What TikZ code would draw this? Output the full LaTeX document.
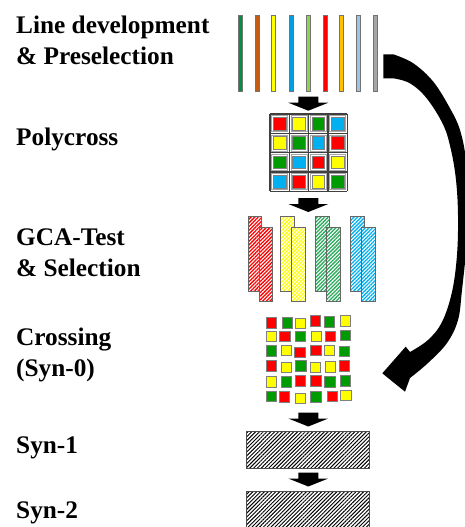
\documentclass[tikz,border=0pt]{standalone}
\usepackage{fontspec}
\setmainfont{Liberation Serif}
\usetikzlibrary{patterns.meta}
\definecolor{bGreen}{RGB}{0,145,65}
\definecolor{bBrown}{RGB}{197,90,17}
\definecolor{bYellow}{RGB}{255,255,0}
\definecolor{bBlue}{RGB}{0,160,224}
\definecolor{bLGreen}{RGB}{146,208,80}
\definecolor{bRed}{RGB}{255,0,0}
\definecolor{bOrange}{RGB}{255,192,0}
\definecolor{bLBlue}{RGB}{157,195,230}
\definecolor{bGray}{RGB}{166,166,166}
\definecolor{cR}{RGB}{255,0,0}
\definecolor{cY}{RGB}{255,255,0}
\definecolor{cG}{RGB}{0,155,0}
\definecolor{cB}{RGB}{0,176,240}
\definecolor{hG}{RGB}{40,170,90}
\begin{document}
\begin{tikzpicture}[x=1pt,y=-1pt,
  lbl/.style={anchor=base west, inner sep=0pt, font=\fontsize{25.3}{30}\selectfont\bfseries},
  bar/.style={draw=black!55, line width=0.6pt},
  cellsq/.style={draw=black!50, line width=0.6pt},
  gca/.style={draw=black!60, line width=0.8pt, preaction={fill=white}, pattern={Lines[angle=45,distance=2.6pt,line width=1.3pt]}},
  syn/.style={draw=black!70, line width=0.8pt, preaction={fill=white}, pattern={Lines[angle=45,distance=2.7pt,line width=0.95pt]}, pattern color=black},
  pics/downarrow/.style={code={\fill (-10,0) -- (10,0) -- (10,6) -- (20,6) -- (0,14) -- (-20,6) -- (-10,6) -- cycle;}}
]
\useasboundingbox (0,0) rectangle (465,527);
\clip (0,0) rectangle (465,527);

% labels
\node[lbl] (t1) at (16,33.3) {Line development};
\node[lbl] (t2) at (16,65) {\& Preselection};
\node[lbl] (t3) at (16,145.7) {Polycross};
\node[lbl] (t4) at (16,245) {GCA-Test};
\node[lbl] (t5) at (16,276.7) {\& Selection};
\node[lbl] (t6) at (16,345) {Crossing};
\node[lbl] (t7) at (16,376.7) {(Syn-0)};
\node[lbl] (t8) at (16,453.3) {Syn-1};
\node[lbl] (t9) at (16,518.3) {Syn-2};

% lines
\foreach \x/\c in {240.7/bGreen,257/bBrown,273.3/bYellow,291/bBlue,308/bLGreen,325.3/bRed,341.3/bOrange,358/bLBlue,375.3/bGray}
  \filldraw[bar, fill=\c] (\x-2,15.7) rectangle (\x+2,91.7);

% curved arrow
\fill[black] (383.3,78.3) -- (383.3,54.3) -- plot[smooth, tension=0.6] coordinates {(393.3,54.3) (413.3,63.3) (433.3,81.7) (450,108.3) (460,130) (466,160) (468,200) (467,240) (462,290) (458,320) (447,343) (428,363) (410,378)} -- (405,391.7) -- (382.3,373.3) -- (405.7,346.7) -- plot[smooth, tension=0.6] coordinates {(410,352) (428,340) (442,322) (452,292) (457,255) (458,215) (456,180) (451,150) (443.3,125) (426.7,98.3) (410,83.3) (393.3,78.3)} -- cycle;

% arrows
\pic at (308.3,96.7) {downarrow};
\pic at (308.3,198) {downarrow};
\pic at (308.3,412.5) {downarrow};
\pic at (308.3,472.5) {downarrow};

% polycross grid
\foreach \c [count=\i from 0] in {cR,cY,cG,cB, cY,cG,cB,cR, cG,cB,cR,cY, cB,cR,cY,cG}{
  \pgfmathsetmacro{\xo}{270+mod(\i,4)*19.33}
  \pgfmathsetmacro{\yo}{114+int(\i/4)*19.33}
  \draw[black!35, line width=0.6pt] (\xo+1.6,\yo+1.6) rectangle (\xo+17.7,\yo+17.7);
  \filldraw[cellsq, fill=\c] (\xo+3.2,\yo+3.2) rectangle (\xo+16.1,\yo+16.1);
}
\foreach \k in {0,...,4}{
  \draw[black!75, line width=1.1pt] (270+\k*19.33,114) -- (270+\k*19.33,191.3);
  \draw[black!75, line width=1.1pt] (270,114+\k*19.33) -- (347.3,114+\k*19.33);
}

% GCA
\foreach \dx/\c in {0/cR,32.4/cY,67.4/hG,102.4/cB}{
  \draw[gca, pattern color=\c] (248.3+\dx,216.7) rectangle (261.7+\dx,291.7);
  \draw[gca, pattern color=\c] (259.3+\dx,227.3) rectangle (272.7+\dx,301.7);
}

% crossing squares
\foreach \x/\y/\c in {
 271.3/322.7/cR, 287/322.7/cG, 300.3/323/cY, 315/320.7/cR, 329/321.7/cG, 345.3/320.7/cY,
 271.3/336/cY, 284.7/336/cR, 300.3/336/cG, 316/336/cY, 330.3/336/cR, 345.3/335/cG,
 271.3/350.7/cG, 286.3/350/cY, 299.7/352/cR, 315.7/350/cR, 329/350/cY, 344.3/351/cG,
 271.3/365.7/cR, 286.3/367.3/cY, 300.7/365.7/cG, 315/367.3/cY, 330/366.7/cY, 344.3/365.7/cR,
 271.3/381.7/cY, 286.3/381.7/cG, 300.3/380.7/cR, 315.7/380.7/cR, 329.7/381.7/cG, 345.3/380.7/cG,
 271.3/396/cG, 284.3/396.7/cR, 300.3/398.3/cY, 315.7/396.7/cG, 332.3/396/cR, 345.7/395/cY}
  \filldraw[cellsq, fill=\c] (\x-5.2,\y-5.2) rectangle (\x+5.2,\y+5.2);

% syn boxes
\draw[syn] (246.7,431.7) rectangle (369.3,468.3);
\draw[syn] (246.7,491.7) rectangle (369.3,535);
\end{tikzpicture}
\end{document}
